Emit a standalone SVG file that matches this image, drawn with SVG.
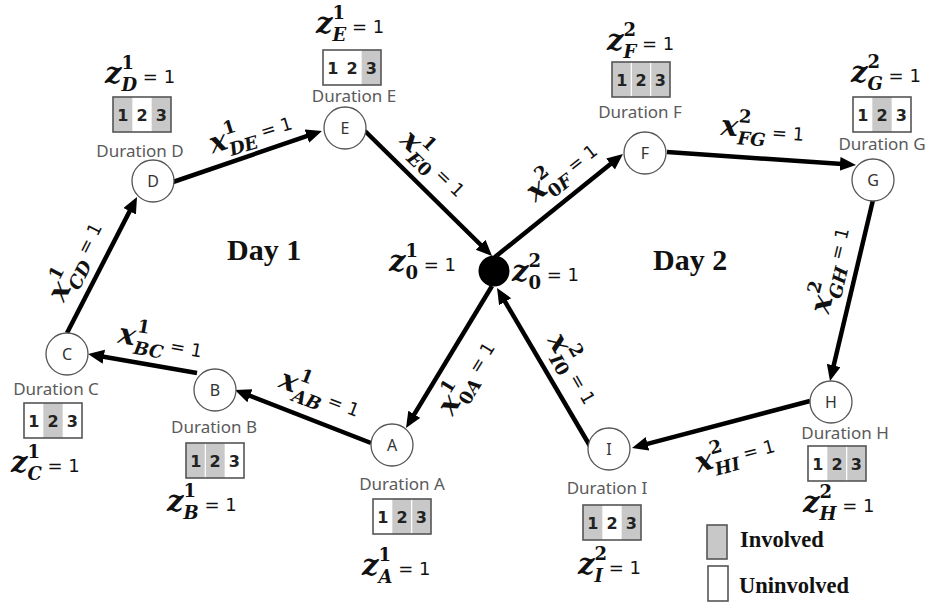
<svg xmlns="http://www.w3.org/2000/svg" width="927" height="607" viewBox="0 0 927 607">
<style>
.nc{fill:#fff;stroke:#555;stroke-width:1.3}
.nl{font-family:"Noto Sans","DejaVu Sans",sans-serif;font-size:16px;fill:#333;text-anchor:middle}
.dur{font-family:"Noto Sans","DejaVu Sans",sans-serif;font-size:17px;fill:#5a5a5a;text-anchor:middle}
.bx{fill:none;stroke:#555;stroke-width:1.6}
.g{fill:#c8c8c8}
.sep{stroke:#fff;stroke-width:1.2}
.dg{font-family:"DejaVu Sans",sans-serif;font-weight:bold;font-size:16px;fill:#222;text-anchor:middle}
.edge{stroke:#000;stroke-width:4.5;fill:none;marker-end:url(#ah)}
.m{font-family:"DejaVu Serif",serif;font-weight:bold;font-style:italic;font-size:29px;fill:#111}
.el{text-anchor:middle}
.sup{font-size:18px;font-style:normal}
.sub{font-size:18px}
.up{font-style:normal}
.eq{font-family:"DejaVu Sans",sans-serif;font-weight:normal;font-style:normal;font-size:18px}
.day{font-family:"Liberation Serif",serif;font-weight:bold;font-size:30px;fill:#111}
.lg{font-family:"Liberation Serif",serif;font-weight:bold;font-size:22.5px;fill:#111}
</style>
<defs>
<marker id="ah" markerWidth="18" markerHeight="16" refX="6" refY="7" orient="auto" markerUnits="userSpaceOnUse"><path d="M0,0 L16,7 L0,14 z" fill="#000"/></marker>
</defs>

<g id="connectors">
<line class="edge" x1="67" y1="333" x2="132.4" y2="205.9"/>
<line class="edge" x1="173" y1="182" x2="312.5" y2="134.2"/>
<line class="edge" x1="365" y1="131" x2="484.9" y2="249"/>
<line class="edge" x1="495" y1="257" x2="615.2" y2="160.3"/>
<line class="edge" x1="667" y1="152" x2="846" y2="164.3"/>
<line class="edge" x1="873" y1="200" x2="832.3" y2="371.3"/>
<line class="edge" x1="810" y1="401" x2="641.7" y2="445.4"/>
<line class="edge" x1="590" y1="446" x2="502.1" y2="296.6"/>
<line class="edge" x1="492" y1="286" x2="411.2" y2="419.4"/>
<line class="edge" x1="371" y1="443" x2="244.3" y2="393.6"/>
<line class="edge" x1="197" y1="373" x2="97.9" y2="355.7"/>

<text class="m el" transform="translate(83,265) rotate(-63)">x<tspan class="sup" dy="-14">1</tspan><tspan class="sub" dx="-12.5" dy="22">CD</tspan><tspan class="eq" dy="-8"> = 1</tspan></text>
<text class="m el" transform="translate(253,141) rotate(-17)">x<tspan class="sup" dy="-14">1</tspan><tspan class="sub" dx="-12.5" dy="22">DE</tspan><tspan class="eq" dy="-8"> = 1</tspan></text>
<text class="m el" transform="translate(428,170) rotate(44)">x<tspan class="sup" dy="-14">1</tspan><tspan class="sub" dx="-12.5" dy="22">E<tspan class="up">0</tspan></tspan><tspan class="eq" dy="-8"> = 1</tspan></text>
<text class="m el" transform="translate(567,178) rotate(-38)">x<tspan class="sup" dy="-14">2</tspan><tspan class="sub" dx="-12.5" dy="22"><tspan class="up">0</tspan>F</tspan><tspan class="eq" dy="-8"> = 1</tspan></text>
<text class="m el" transform="translate(762,138) rotate(4)">x<tspan class="sup" dy="-14">2</tspan><tspan class="sub" dx="-12.5" dy="22">FG</tspan><tspan class="eq" dy="-8"> = 1</tspan></text>
<text class="m el" transform="translate(839,272) rotate(-76.6)">x<tspan class="sup" dy="-14">2</tspan><tspan class="sub" dx="-12.5" dy="22">GH</tspan><tspan class="eq" dy="-8"> = 1</tspan></text>
<text class="m el" transform="translate(737,462) rotate(-15)">x<tspan class="sup" dy="-14">2</tspan><tspan class="sub" dx="-12.5" dy="22">HI</tspan><tspan class="eq" dy="-8"> = 1</tspan></text>
<text class="m el" transform="translate(566,373) rotate(60)">x<tspan class="sup" dy="-14">2</tspan><tspan class="sub" dx="-12.5" dy="22">I<tspan class="up">0</tspan></tspan><tspan class="eq" dy="-8"> = 1</tspan></text>
<text class="m el" transform="translate(474,382) rotate(-58.3)">x<tspan class="sup" dy="-14">1</tspan><tspan class="sub" dx="-12.5" dy="22"><tspan class="up">0</tspan>A</tspan><tspan class="eq" dy="-8"> = 1</tspan></text>
<text class="m el" transform="translate(317,402) rotate(21)">x<tspan class="sup" dy="-14">1</tspan><tspan class="sub" dx="-12.5" dy="22">AB</tspan><tspan class="eq" dy="-8"> = 1</tspan></text>
<text class="m el" transform="translate(159,350) rotate(10)">x<tspan class="sup" dy="-14">1</tspan><tspan class="sub" dx="-12.5" dy="22">BC</tspan><tspan class="eq" dy="-8"> = 1</tspan></text>
</g>

<g id="depot">
<circle cx="494" cy="271" r="15.5" fill="#000"/>
<text class="m" x="389" y="271">z<tspan class="sup" dy="-14">1</tspan><tspan class="sub up" dx="-12.5" dy="22">0</tspan><tspan class="eq" dy="-8"> = 1</tspan></text>
<text class="m" x="512" y="281">z<tspan class="sup" dy="-14">2</tspan><tspan class="sub up" dx="-12.5" dy="22">0</tspan><tspan class="eq" dy="-8"> = 1</tspan></text>
</g>

<g id="node-A">
<circle class="nc" cx="392" cy="445" r="21"/>
<text class="nl" x="392" y="451">A</text>
<text class="dur" x="402" y="490">Duration A</text>
<g transform="translate(373,499)"><rect class="g" x="19.33" y="0" width="38.67" height="35"/><line class="sep" x1="38.67" y1="0" x2="38.67" y2="35"/><rect class="bx" width="58" height="35"/><text class="dg" x="9.7" y="24">1</text><text class="dg" x="29" y="24">2</text><text class="dg" x="48.3" y="24">3</text></g>
<text class="m" x="362" y="575">z<tspan class="sup" dy="-14">1</tspan><tspan class="sub" dx="-12.5" dy="22">A</tspan><tspan class="eq" dy="-8"> = 1</tspan></text>
</g>

<g id="node-B">
<circle class="nc" cx="215" cy="390" r="21"/>
<text class="nl" x="215" y="396">B</text>
<text class="dur" x="214" y="433">Duration B</text>
<g transform="translate(186,443)"><rect class="g" x="0" y="0" width="38.67" height="35"/><line class="sep" x1="19.33" y1="0" x2="19.33" y2="35"/><rect class="bx" width="58" height="35"/><text class="dg" x="9.7" y="24">1</text><text class="dg" x="29" y="24">2</text><text class="dg" x="48.3" y="24">3</text></g>
<text class="m" x="167" y="511">z<tspan class="sup" dy="-14">1</tspan><tspan class="sub" dx="-12.5" dy="22">B</tspan><tspan class="eq" dy="-8"> = 1</tspan></text>
</g>

<g id="node-C">
<circle class="nc" cx="67" cy="354" r="21"/>
<text class="nl" x="67" y="360">C</text>
<text class="dur" x="56" y="395">Duration C</text>
<g transform="translate(24,403)"><rect class="g" x="19.33" y="0" width="19.33" height="35"/><rect class="bx" width="58" height="35"/><text class="dg" x="9.7" y="24">1</text><text class="dg" x="29" y="24">2</text><text class="dg" x="48.3" y="24">3</text></g>
<text class="m" x="11" y="472">z<tspan class="sup" dy="-14">1</tspan><tspan class="sub" dx="-12.5" dy="22">C</tspan><tspan class="eq" dy="-8"> = 1</tspan></text>
</g>

<g id="node-D">
<circle class="nc" cx="153" cy="181" r="21"/>
<text class="nl" x="153" y="187">D</text>
<text class="dur" x="140" y="157">Duration D</text>
<g transform="translate(113,97)"><rect class="g" x="0" y="0" width="19.33" height="35"/><rect class="g" x="38.67" y="0" width="19.33" height="35"/><rect class="bx" width="58" height="35"/><text class="dg" x="9.7" y="24">1</text><text class="dg" x="29" y="24">2</text><text class="dg" x="48.3" y="24">3</text></g>
<text class="m" x="105" y="83">z<tspan class="sup" dy="-14">1</tspan><tspan class="sub" dx="-12.5" dy="22">D</tspan><tspan class="eq" dy="-8"> = 1</tspan></text>
</g>

<g id="node-E">
<circle class="nc" cx="345" cy="128" r="21"/>
<text class="nl" x="345" y="134">E</text>
<text class="dur" x="354" y="102">Duration E</text>
<g transform="translate(323,50)"><rect class="g" x="38.67" y="0" width="19.33" height="35"/><rect class="bx" width="58" height="35"/><text class="dg" x="9.7" y="24">1</text><text class="dg" x="29" y="24">2</text><text class="dg" x="48.3" y="24">3</text></g>
<text class="m" x="316" y="33">z<tspan class="sup" dy="-14">1</tspan><tspan class="sub" dx="-12.5" dy="22">E</tspan><tspan class="eq" dy="-8"> = 1</tspan></text>
</g>

<g id="node-F">
<circle class="nc" cx="645" cy="153" r="21"/>
<text class="nl" x="645" y="159">F</text>
<text class="dur" x="640" y="118">Duration F</text>
<g transform="translate(612,62)"><rect class="g" x="0" y="0" width="58" height="35"/><line class="sep" x1="19.33" y1="0" x2="19.33" y2="35"/><line class="sep" x1="38.67" y1="0" x2="38.67" y2="35"/><rect class="bx" width="58" height="35"/><text class="dg" x="9.7" y="24">1</text><text class="dg" x="29" y="24">2</text><text class="dg" x="48.3" y="24">3</text></g>
<text class="m" x="607" y="50">z<tspan class="sup" dy="-14">2</tspan><tspan class="sub" dx="-12.5" dy="22">F</tspan><tspan class="eq" dy="-8"> = 1</tspan></text>
</g>

<g id="node-G">
<circle class="nc" cx="873" cy="180" r="21"/>
<text class="nl" x="873" y="186">G</text>
<text class="dur" x="882" y="150">Duration G</text>
<g transform="translate(853,97)"><rect class="g" x="19.33" y="0" width="19.33" height="35"/><rect class="bx" width="58" height="35"/><text class="dg" x="9.7" y="24">1</text><text class="dg" x="29" y="24">2</text><text class="dg" x="48.3" y="24">3</text></g>
<text class="m" x="851" y="82">z<tspan class="sup" dy="-14">2</tspan><tspan class="sub" dx="-12.5" dy="22">G</tspan><tspan class="eq" dy="-8"> = 1</tspan></text>
</g>

<g id="node-H">
<circle class="nc" cx="831" cy="402" r="21"/>
<text class="nl" x="831" y="408">H</text>
<text class="dur" x="845" y="439">Duration H</text>
<g transform="translate(808,446)"><rect class="g" x="19.33" y="0" width="38.67" height="35"/><line class="sep" x1="38.67" y1="0" x2="38.67" y2="35"/><rect class="bx" width="58" height="35"/><text class="dg" x="9.7" y="24">1</text><text class="dg" x="29" y="24">2</text><text class="dg" x="48.3" y="24">3</text></g>
<text class="m" x="803" y="512">z<tspan class="sup" dy="-14">2</tspan><tspan class="sub" dx="-12.5" dy="22">H</tspan><tspan class="eq" dy="-8"> = 1</tspan></text>
</g>

<g id="node-I">
<circle class="nc" cx="609" cy="449" r="21"/>
<text class="nl" x="609" y="455">I</text>
<text class="dur" x="607" y="494">Duration I</text>
<g transform="translate(583,505)"><rect class="g" x="0" y="0" width="19.33" height="35"/><rect class="g" x="38.67" y="0" width="19.33" height="35"/><rect class="bx" width="58" height="35"/><text class="dg" x="9.7" y="24">1</text><text class="dg" x="29" y="24">2</text><text class="dg" x="48.3" y="24">3</text></g>
<text class="m" x="578" y="574">z<tspan class="sup" dy="-14">2</tspan><tspan class="sub" dx="-12.5" dy="22">I</tspan><tspan class="eq" dy="-8"> = 1</tspan></text>
</g>

<g id="days">
<text class="day" x="227" y="260">Day 1</text>
<text class="day" x="653" y="270">Day 2</text>
</g>

<g id="legend">
<rect x="707" y="525" width="20" height="34" fill="#c8c8c8" stroke="#555" stroke-width="1.6"/>
<text class="lg" x="740" y="547">Involved</text>
<rect x="708" y="566" width="20" height="35" fill="#fff" stroke="#555" stroke-width="1.6"/>
<text class="lg" x="739" y="593">Uninvolved</text>
</g>
</svg>
